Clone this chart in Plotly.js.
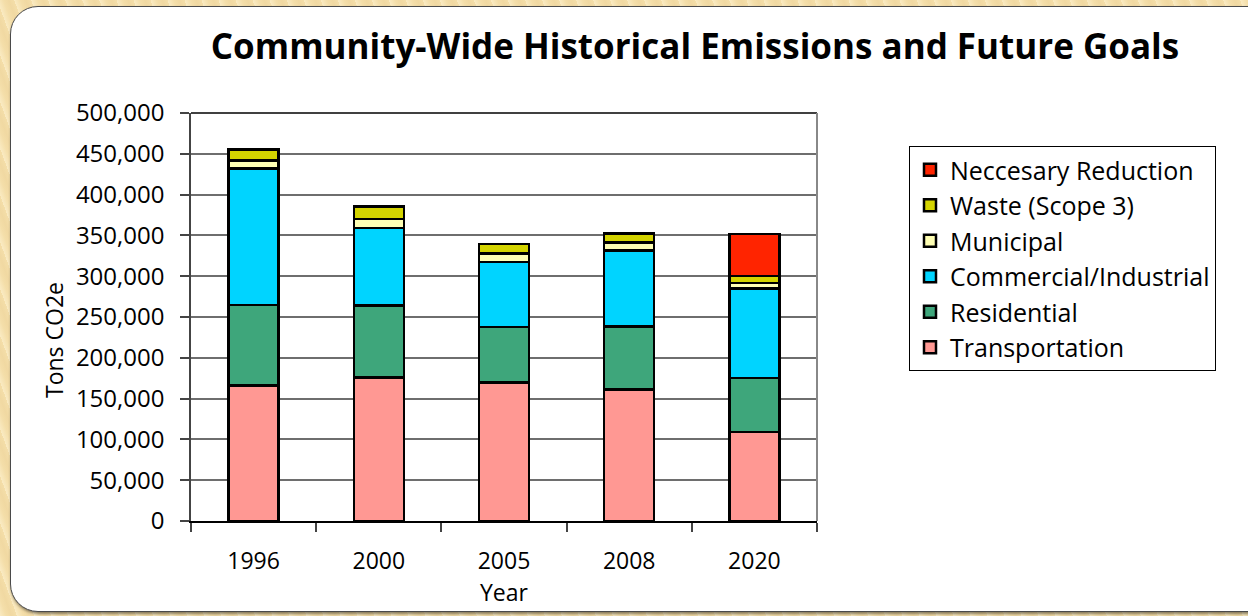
<!DOCTYPE html>
<html>
<head>
<meta charset="utf-8">
<script src="https://cdn.plot.ly/plotly-3.0.1.min.js"></script>
<style>
  html, body { margin: 0; padding: 0; width: 1248px; height: 616px; overflow: hidden; }
  body {
    background: #f4dea9;
    background-image: repeating-linear-gradient(70deg, rgba(255,245,215,0.55) 0px, rgba(255,245,215,0.0) 6px, rgba(230,200,140,0.25) 11px, rgba(255,245,215,0.0) 16px);
    position: relative;
  }
  #panel {
    position: absolute; left: 10px; top: 6px; width: 1270px; height: 604px;
    background: #ffffff; border: 1.5px solid #4a4a4a; border-radius: 28px;
    box-shadow: 1px 2px 3px rgba(0,0,0,0.45);
  }
  #chart { position: absolute; left: 0; top: 0; width: 1248px; height: 616px; }
</style>
</head>
<body>
<div id="panel"></div>
<div id="chart"></div>
<script>
const years = ['1996', '2000', '2005', '2008', '2020'];
const transportation = [166000, 176000, 169500, 161000, 109000];
const residential = [99000, 88000, 68500, 77500, 66000];
const commercialIndustrial = [167000, 95000, 79500, 93000, 110000];
const municipal = [10000, 11000, 10500, 10000, 6500];
const waste = [13000, 15500, 11500, 11000, 8500];
const necessaryReduction = [0, 0, 0, 0, 52000];

const seriesNames = ['Transportation', 'Residential', 'Commercial/Industrial', 'Municipal', 'Waste (Scope 3)', 'Neccesary Reduction'];
const seriesValues = [transportation, residential, commercialIndustrial, municipal, waste, necessaryReduction];
const seriesColors = ['#ff9893', '#3ea67b', '#00d4ff', '#ffffb4', '#d4d400', '#ff2400'];

const traces = seriesNames.map((name, i) => ({
  type: 'bar',
  name: name,
  x: years,
  y: seriesValues[i],
  legendgroup: 'g' + i,
  legendrank: 100 - i,
  marker: { color: seriesColors[i], line: { color: '#000000', width: 2.5 } },
  hoverinfo: 'x+y+name'
}));

const font = '"Open Sans", "Noto Sans", sans-serif';
const W = 1248, H = 616;
const L = 191, R = 817, T = 113, B = 521;

const layout = {
  width: W, height: H,
  paper_bgcolor: 'rgba(0,0,0,0)',
  plot_bgcolor: '#ffffff',
  barmode: 'stack',
  bargap: 0.6,
  margin: { l: L, r: W - R, t: T, b: H - B, pad: 0 },
  font: { family: font, color: '#000000', size: 22 },
  title: {
    text: '<b>Community-Wide Historical Emissions and Future Goals</b>',
    font: { family: font, size: 35, color: '#000000' },
    xref: 'container', yref: 'container',
    x: 695 / W, xanchor: 'center',
    y: 1 - 47 / H, yanchor: 'middle'
  },
  xaxis: {
    type: 'category',
    tickson: 'boundaries',
    ticks: 'outside', ticklen: 9, tickwidth: 1.5, tickcolor: '#444',
    showline: true, linecolor: '#000', linewidth: 1.5, mirror: false,
    showgrid: false,
    ticklabelstandoff: 19,
    tickfont: { family: font, size: 23 },
    title: { text: 'Year', font: { family: font, size: 23 }, standoff: 9 }
  },
  yaxis: {
    range: [0, 500000],
    dtick: 50000,
    tickformat: ',d',
    ticks: 'outside', ticklen: 9, tickwidth: 1.5, tickcolor: '#444',
    showline: true, linecolor: '#444', linewidth: 1.5,
    showgrid: true, gridcolor: '#6e6e6e', gridwidth: 1.5,
    zeroline: false,
    ticklabelstandoff: 11,
    tickfont: { family: font, size: 24 },
    title: { text: '' }
  },
  shapes: [
    { type: 'line', xref: 'paper', yref: 'paper', x0: 0, x1: 1, y0: 1, y1: 1, line: { color: '#000', width: 1.5 } },
    { type: 'line', xref: 'paper', yref: 'paper', x0: 1, x1: 1, y0: 0, y1: 1, line: { color: '#888', width: 2 } }
  ],
  annotations: [
    {
      text: 'Tons CO2e', textangle: -90,
      xref: 'paper', yref: 'paper',
      x: (54 - L) / (R - L), y: (B - 340) / (B - T),
      xanchor: 'center', yanchor: 'middle', showarrow: false,
      font: { family: font, size: 23, color: '#000' }
    }
  ],
  legend: {
    x: (909 - L) / (R - L), xanchor: 'left',
    y: (B - 146) / (B - T), yanchor: 'top',
    bgcolor: '#ffffff', bordercolor: '#000000', borderwidth: 1,
    traceorder: 'grouped',
    tracegroupgap: 0,
    font: { family: font, size: 25, color: '#000' },
    itemwidth: 30
  },
  showlegend: true
};

Plotly.newPlot('chart', traces, layout, { displayModeBar: false, staticPlot: false });
</script>
</body>
</html>
